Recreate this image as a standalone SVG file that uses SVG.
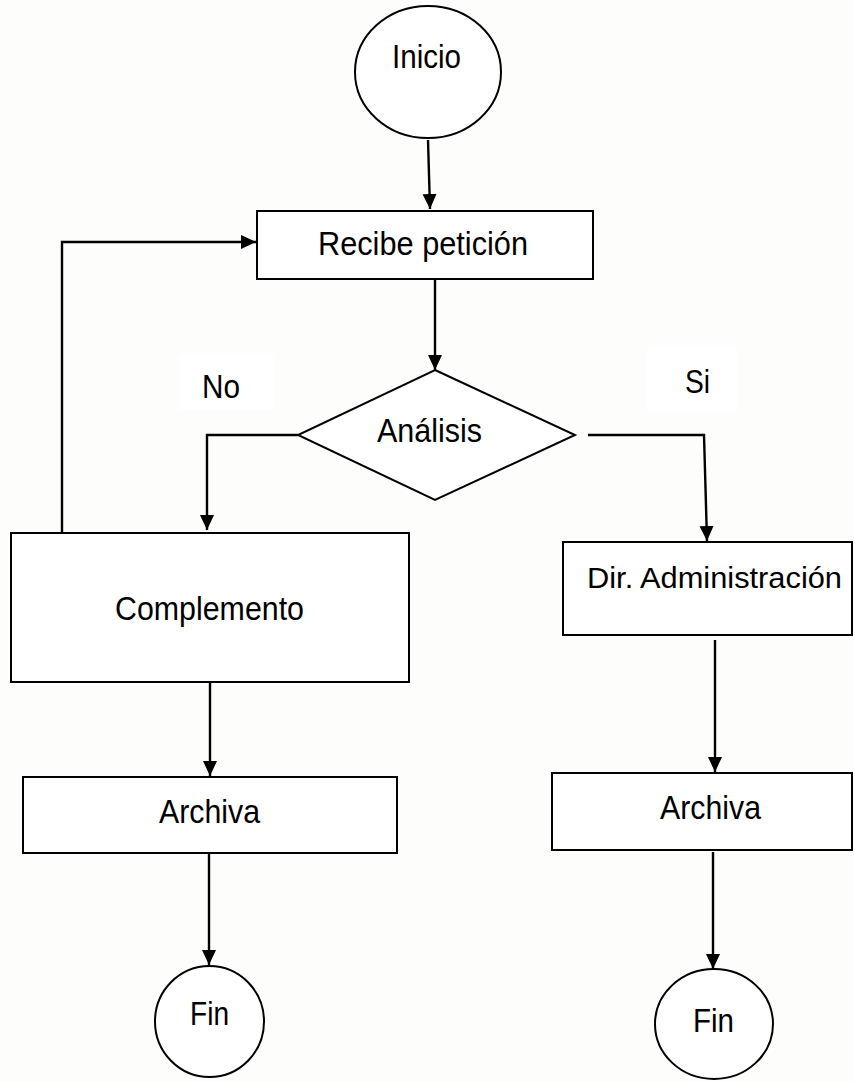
<svg xmlns="http://www.w3.org/2000/svg" width="854" height="1082" viewBox="0 0 854 1082">
<defs>
<marker id="arr" markerUnits="userSpaceOnUse" markerWidth="16" markerHeight="16" refX="15" refY="8" orient="auto">
<path d="M0,1 L15,8 L0,15 z" fill="#000"/>
</marker>
<style>
.s{fill:#fff;stroke:#000;stroke-width:2}
.t{font-family:"Liberation Sans",Arial,sans-serif;font-size:34px;fill:#000}
.c{fill:none;stroke:#000;stroke-width:2.4;marker-end:url(#arr)}
</style>
</defs>
<rect x="0" y="0" width="854" height="1082" fill="#fdfdfc"/>
<g id="connectors">
<line class="c" x1="428" y1="140" x2="430" y2="209"/>
<line class="c" x1="435" y1="280" x2="435" y2="370"/>
<polyline class="c" points="298,435 207,435 207,530"/>
<polyline class="c" points="588,435 704,435 707,541"/>
<polyline class="c" points="62,532 62,242 256,242"/>
<line class="c" x1="210" y1="683" x2="210" y2="776"/>
<line class="c" x1="715" y1="640" x2="715" y2="772"/>
<line class="c" x1="209" y1="853" x2="209" y2="965"/>
<line class="c" x1="713" y1="852" x2="713" y2="969"/>
</g>
<g id="inicio">
<ellipse class="s" cx="428" cy="72" rx="73" ry="66"/>
<text class="t" x="392" y="68" textLength="69" lengthAdjust="spacingAndGlyphs">Inicio</text>
</g>
<g id="recibe">
<rect class="s" x="257" y="211" width="336" height="68"/>
<text class="t" x="318" y="255" textLength="210" lengthAdjust="spacingAndGlyphs">Recibe petición</text>
</g>
<g id="analisis">
<polygon class="s" points="435,370 575,435 435,500 298,435"/>
<text class="t" x="377" y="442" textLength="105" lengthAdjust="spacingAndGlyphs">Análisis</text>
</g>
<g id="label-no">
<rect x="180" y="354" width="95" height="56" fill="#fff"/>
<text class="t" x="202" y="398" textLength="38" lengthAdjust="spacingAndGlyphs">No</text>
</g>
<g id="label-si">
<rect x="647" y="346" width="90" height="66" fill="#fff"/>
<text class="t" x="685" y="393" textLength="25" lengthAdjust="spacingAndGlyphs">Si</text>
</g>
<g id="complemento">
<rect class="s" x="11" y="533" width="398" height="149"/>
<text class="t" x="115" y="620" textLength="189" lengthAdjust="spacingAndGlyphs">Complemento</text>
</g>
<g id="dir-admin">
<rect class="s" x="563" y="542" width="289" height="93"/>
<text class="t" x="587" y="588" style="font-size:30.4px" textLength="255" lengthAdjust="spacingAndGlyphs">Dir. Administración</text>
</g>
<g id="archiva-left">
<rect class="s" x="23" y="777" width="374" height="76"/>
<text class="t" x="159" y="823" textLength="101" lengthAdjust="spacingAndGlyphs">Archiva</text>
</g>
<g id="archiva-right">
<rect class="s" x="552" y="773" width="300" height="77"/>
<text class="t" x="660" y="819" textLength="101" lengthAdjust="spacingAndGlyphs">Archiva</text>
</g>
<g id="fin-left">
<ellipse class="s" cx="209.5" cy="1021.5" rx="54.5" ry="55.5"/>
<text class="t" x="190" y="1025" textLength="39" lengthAdjust="spacingAndGlyphs">Fin</text>
</g>
<g id="fin-right">
<ellipse class="s" cx="714" cy="1024" rx="59" ry="55"/>
<text class="t" x="693" y="1032" textLength="41" lengthAdjust="spacingAndGlyphs">Fin</text>
</g>
</svg>
